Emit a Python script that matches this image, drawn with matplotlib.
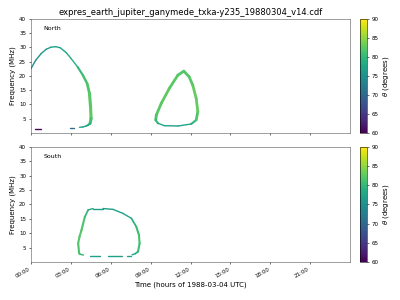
import matplotlib
matplotlib.use("Agg")
import matplotlib.pyplot as plt
import numpy as np
from matplotlib.collections import LineCollection
from matplotlib.colors import Normalize

# North, main arc (hours of day, MHz, theta in degrees)
north_a_time = [0.0, 0.35, 0.77, 1.15, 1.5, 1.85, 2.2, 2.65, 3.02, 3.5, 3.9,
                4.22, 4.4, 4.48, 4.52, 4.45, 4.3, 4.15, 3.9, 3.65]
north_a_freq = [22.6, 25.5, 27.9, 29.4, 30.1, 30.3, 29.9, 28.2, 26.1, 23.2, 20.3,
                17.4, 13.9, 9.2, 5.1, 3.4, 2.8, 2.45, 2.1, 2.0]
north_a_theta = [74, 75, 76, 76.5, 77, 77, 77.5, 78, 78.5, 79.5, 80.5,
                 81.5, 82, 82.5, 82.5, 80, 78.5, 77.5, 77, 77]

# North, second loop
north_b_time = [11.5, 11.05, 10.4, 9.8, 9.43, 9.38, 9.55, 10.05, 11.05, 12.05,
                12.43, 12.55, 12.43, 12.17, 11.9, 11.5]
north_b_freq = [21.7, 20.3, 15.6, 10.4, 6.3, 4.55, 3.4, 2.56, 2.45, 3.15,
                4.55, 7.5, 12.1, 16.8, 19.7, 21.7]
north_b_theta = [82, 82, 82.5, 82.5, 82, 81, 79, 77, 77, 78,
                 81, 82.5, 83, 82.5, 82, 82]

# North, short low-frequency dashes
north_dash_start = [0.32, 2.9]
north_dash_end = [0.73, 3.2]
north_dash_freq = [1.3, 1.65]
north_dash_theta = [60.5, 71]

# South
south_time = [3.95, 3.7, 3.62, 3.55, 3.65, 3.8, 4.05, 4.3, 4.67, 5.42, 6.17,
              6.92, 7.55, 7.92, 8.12, 8.17, 8.05, 7.85, 7.6]
south_freq = [2.4, 2.7, 3.0, 6.5, 8.8, 11.1, 15.7, 18.1, 18.6, 18.6, 18.3,
              16.9, 15.2, 12.3, 9.4, 6.5, 3.6, 2.9, 2.5]
south_theta = [79, 80, 81, 82, 82, 82, 81, 79, 77, 77, 76.5,
               77, 78, 80, 81, 81.5, 80, 78, 77.5]

south_dash_start = [4.42, 5.77, 7.2]
south_dash_end = [5.17, 6.82, 7.5]
south_dash_freq = [2.1, 2.1, 2.2]
south_dash_theta = [77, 77, 77]

hour_ticks = list(range(0, 24, 3))
norm = Normalize(vmin=60, vmax=90)
cmap = "viridis"


def add_curve(ax, t, f, th, widths):
    pts = np.column_stack([t, f])
    segs = np.stack([pts[:-1], pts[1:]], axis=1)
    th = np.asarray(th, dtype=float)
    lc = LineCollection(segs, cmap=cmap, norm=norm, linewidths=widths,
                        capstyle="round")
    lc.set_array((th[:-1] + th[1:]) / 2)
    ax.add_collection(lc)
    return lc


def add_dashes(ax, t0, t1, f, th):
    for a, b, ff, c in zip(t0, t1, f, th):
        add_curve(ax, [a, b], [ff, ff], [c, c], 2.0)


fig = plt.figure(figsize=(8, 6), dpi=50)
ax_n = fig.add_axes([0.0775, 0.5567, 0.7975, 0.38])
ax_s = fig.add_axes([0.0775, 0.1267, 0.7975, 0.3833])
cax_n = fig.add_axes([0.901, 0.5567, 0.0155, 0.38])
cax_s = fig.add_axes([0.901, 0.1267, 0.0155, 0.3833])

n_a_w = [2.0] * 9 + [3.0, 3.5, 4.0, 4.5, 4.5, 4.5, 3.0, 2.5, 2.0, 2.0]
lc = add_curve(ax_n, north_a_time, north_a_freq, north_a_theta, n_a_w)
n_b_w = [4.0, 4.0, 4.0, 4.0, 4.0, 3.0, 2.0, 2.0, 2.0, 3.0, 4.0, 4.0, 4.0, 4.0, 4.0]
add_curve(ax_n, north_b_time, north_b_freq, north_b_theta, n_b_w)
add_dashes(ax_n, north_dash_start, north_dash_end, north_dash_freq, north_dash_theta)

s_w = [2.0, 2.5, 3.0, 3.0, 3.0, 3.0, 2.5, 2.0, 2.0, 2.0, 2.0,
       2.0, 2.5, 3.0, 3.0, 3.0, 2.5, 2.0]
add_curve(ax_s, south_time, south_freq, south_theta, s_w)
add_dashes(ax_s, south_dash_start, south_dash_end, south_dash_freq, south_dash_theta)

for ax, name in [(ax_n, "North"), (ax_s, "South")]:
    ax.set_xlim(0, 24)
    ax.set_ylim(0, 40)
    ax.set_yticks(range(5, 41, 5))
    ax.set_xticks(hour_ticks)
    ax.set_ylabel("Frequency (MHz)", fontsize=10)
    ax.tick_params(labelsize=8)
    ax.text(0.04, 0.9, name, transform=ax.transAxes, fontsize=9)
    for s in ax.spines.values():
        s.set_color("#555555")

ax_n.set_xticklabels([])
ax_s.set_xticklabels(["%02d:00" % h for h in hour_ticks], rotation=30, ha="right")
ax_s.set_xlabel("Time (hours of 1988-03-04 UTC)", fontsize=10)

for cax in (cax_n, cax_s):
    cb = fig.colorbar(lc, cax=cax)
    cb.set_ticks(range(60, 91, 5))
    cb.set_label(r"$\theta$ (degrees)", fontsize=10)
    cb.ax.tick_params(labelsize=8)

ax_n.set_title("expres_earth_jupiter_ganymede_txka-y235_19880304_v14.cdf",
               fontsize=12, pad=6)

fig.savefig("out.png", dpi=50)
